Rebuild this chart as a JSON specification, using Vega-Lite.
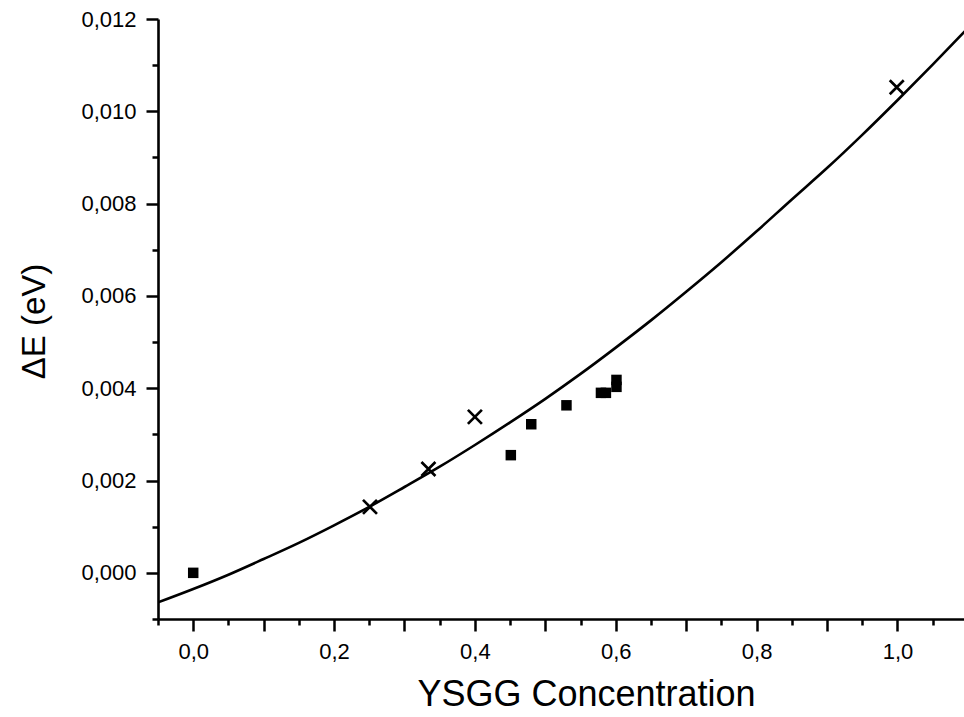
{
  "$schema": "https://vega.github.io/schema/vega-lite/v6.json",
  "autosize": {"type": "none"},
  "padding": {"left": 158, "top": 19, "right": 0, "bottom": 98},
  "width": 806,
  "height": 600,
  "background": "white",
  "config": {
    "view": {"stroke": null},
    "font": "Liberation Sans",
    "axis": {"grid": false, "domainColor": "black", "domainWidth": 2.6, "tickColor": "black", "tickWidth": 2.5, "labelColor": "black", "titleColor": "black", "labelFont": "Liberation Sans", "titleFont": "Liberation Sans", "titleFontWeight": "normal"}
  },
  "datasets": {
    "squares": [
      {"x": 0.0, "y": 0.0},
      {"x": 0.451, "y": 0.00255},
      {"x": 0.480, "y": 0.00322},
      {"x": 0.530, "y": 0.00363},
      {"x": 0.579, "y": 0.00390},
      {"x": 0.586, "y": 0.00390},
      {"x": 0.601, "y": 0.00418},
      {"x": 0.601, "y": 0.00403}
    ],
    "crosses": [
      {"x": 0.251, "y": 0.00143},
      {"x": 0.334, "y": 0.00225},
      {"x": 0.400, "y": 0.00338},
      {"x": 0.999, "y": 0.01052}
    ],
    "fit": [
      {"x": -0.05, "y": -0.00064},
      {"x": 0.0, "y": -0.00035},
      {"x": 0.05, "y": -0.00004},
      {"x": 0.1, "y": 0.00030},
      {"x": 0.15, "y": 0.00065},
      {"x": 0.2, "y": 0.00103},
      {"x": 0.25, "y": 0.00143},
      {"x": 0.3, "y": 0.00186},
      {"x": 0.35, "y": 0.00230},
      {"x": 0.4, "y": 0.00277},
      {"x": 0.45, "y": 0.00326},
      {"x": 0.5, "y": 0.00377},
      {"x": 0.55, "y": 0.00431},
      {"x": 0.6, "y": 0.00488},
      {"x": 0.65, "y": 0.00547},
      {"x": 0.7, "y": 0.00609},
      {"x": 0.75, "y": 0.00673},
      {"x": 0.8, "y": 0.00740},
      {"x": 0.85, "y": 0.00809},
      {"x": 0.9, "y": 0.00877},
      {"x": 0.95, "y": 0.00949},
      {"x": 1.0, "y": 0.01024},
      {"x": 1.05, "y": 0.01101},
      {"x": 1.1, "y": 0.01180}
    ]
  },
  "encoding": {
    "x": {
      "field": "x", "type": "quantitative",
      "scale": {"domain": [-0.05, 1.0945], "nice": false, "zero": false},
      "axis": {
        "title": "YSGG Concentration",
        "titleFontSize": 36,
        "titleX": 428,
        "titleY": 86,
        "titleAlign": "center",
        "titleBaseline": "alphabetic",
        "labelFontSize": 22,
        "labelPadding": 10,
        "values": [-0.05, 0, 0.05, 0.1, 0.15, 0.2, 0.25, 0.3, 0.35, 0.4, 0.45, 0.5, 0.55, 0.6, 0.65, 0.7, 0.75, 0.8, 0.85, 0.9, 0.95, 1.0, 1.05],
        "tickSize": {"condition": {"test": "abs(datum.value*10 - round(datum.value*10)) < 0.01", "value": 12}, "value": 6},
        "labelExpr": "abs(datum.value*5 - round(datum.value*5)) < 0.01 ? replace(format(datum.value, '.1f'), '.', ',') : ''",
        "labelFlush": false,
        "labelOverlap": false
      }
    },
    "y": {
      "field": "y", "type": "quantitative",
      "scale": {"domain": [-0.001, 0.012], "nice": false, "zero": false},
      "axis": {
        "title": "ΔE (eV)",
        "titleFontSize": 33,
        "titleAngle": 270,
        "titleX": -114,
        "titleY": 302,
        "titleAlign": "center",
        "titleBaseline": "alphabetic",
        "labelFontSize": 22,
        "labelPadding": 10,
        "values": [-0.001, 0, 0.001, 0.002, 0.003, 0.004, 0.005, 0.006, 0.007, 0.008, 0.009, 0.01, 0.011, 0.012],
        "tickSize": {"condition": {"test": "abs(datum.value*500 - round(datum.value*500)) < 0.01", "value": 12}, "value": 6},
        "labelExpr": "abs(datum.value*500 - round(datum.value*500)) < 0.01 && datum.value > -0.0005 ? replace(format(datum.value, '.3f'), '.', ',') : ''",
        "labelFlush": false,
        "labelOverlap": false
      }
    }
  },
  "layer": [
    {
      "data": {"name": "fit"},
      "mark": {"type": "line", "color": "black", "strokeWidth": 2.6, "clip": true, "interpolate": "monotone"}
    },
    {
      "data": {"name": "squares"},
      "mark": {"type": "point", "shape": "square", "filled": true, "color": "black", "size": 110, "opacity": 1}
    },
    {
      "data": {"name": "crosses"},
      "mark": {"type": "point", "shape": "M-1,-1L1,1M-1,1L1,-1", "filled": false, "color": "black", "size": 196, "strokeWidth": 2.7, "opacity": 1}
    }
  ]
}
